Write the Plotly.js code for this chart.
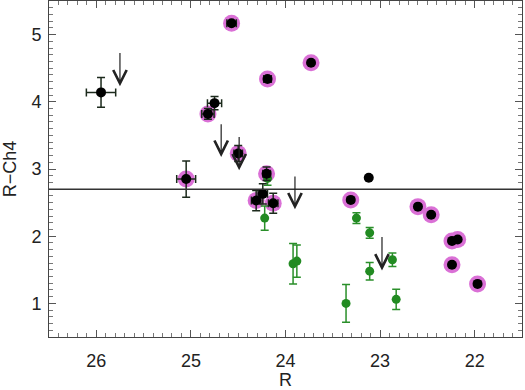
<!DOCTYPE html>
<html>
<head>
<meta charset="utf-8">
<script src="https://cdn.plot.ly/plotly-3.0.1.min.js"></script>
<style>html,body{margin:0;padding:0;background:#fff;}#chart{width:525px;height:390px;}</style>
</head>
<body>
<div id="chart"></div>
<script>
// Black points (R, R-Ch4) with errors; halo flag marks the magenta-ringed ones
const blackR    = [25.95, 25.05, 24.75, 24.82, 24.50, 24.20, 24.31, 24.24, 24.13, 24.57, 24.19, 23.73, 23.12, 23.31, 22.60, 22.46, 22.24, 22.18, 22.24, 21.97];
const blackC    = [4.14, 2.85, 3.98, 3.82, 3.23, 2.93, 2.53, 2.63, 2.49, 5.17, 4.34, 4.58, 2.87, 2.54, 2.44, 2.32, 1.93, 1.95, 1.575, 1.29];
const blackErrR = [0.155, 0.10, 0.075, 0.065, 0.045, 0.04, 0.05, 0.05, 0.05, 0.05, 0.04, 0.02, 0, 0.02, 0, 0, 0, 0, 0, 0];
const blackErrC = [0.22, 0.27, 0.10, 0.08, 0.12, 0.10, 0.15, 0.15, 0.15, 0.03, 0.03, 0.02, 0, 0.03, 0, 0, 0, 0, 0, 0];
const blackHalo = [0, 1, 0, 1, 1, 1, 1, 0, 1, 1, 1, 1, 0, 1, 1, 1, 1, 1, 1, 1];

// Green points
const greenR    = [24.19, 24.22, 23.92, 23.88, 23.36, 23.25, 23.11, 23.11, 22.87, 22.83];
const greenC    = [2.86, 2.27, 1.59, 1.63, 1.00, 2.27, 2.05, 1.48, 1.65, 1.06];
const greenErrC = [0.10, 0.18, 0.30, 0.24, 0.28, 0.08, 0.08, 0.13, 0.10, 0.15];

// Upper-limit arrows
const arrowR    = [25.75, 24.68, 24.49, 23.90, 22.98];
const arrowTop  = [4.75, 3.69, 3.50, 2.91, 2.01];
const arrowTip  = [4.23, 3.18, 2.98, 2.40, 1.49];

// Horizontal cut
const cutLevel = 2.7;

const haloR = blackR.filter((v, i) => blackHalo[i]);
const haloC = blackC.filter((v, i) => blackHalo[i]);

const traces = [
  { type: 'scatter', mode: 'markers', x: haloR, y: haloC, hoverinfo: 'skip',
    marker: { size: 17, color: '#da70d6', line: { width: 0 } } },
  { type: 'scatter', mode: 'markers', x: greenR, y: greenC,
    error_y: { type: 'data', array: greenErrC, color: '#2a8f2a', thickness: 1.5, width: 4 },
    marker: { size: 9, color: '#228b22', line: { width: 0 } } },
  { type: 'scatter', mode: 'markers', x: blackR, y: blackC,
    error_x: { type: 'data', array: blackErrR, color: '#1c2a1c', thickness: 1.5, width: 4 },
    error_y: { type: 'data', array: blackErrC, color: '#1c2a1c', thickness: 1.5, width: 4 },
    marker: { size: 10, color: '#000', line: { width: 0 } } }
];

const annotations = arrowR.map((r, i) => ({
  x: r, y: arrowTip[i], ax: r, ay: arrowTop[i], xref: 'x', yref: 'y', axref: 'x', ayref: 'y',
  showarrow: true, arrowhead: 5, arrowsize: 2.2, arrowwidth: 1.2, arrowcolor: '#222', standoff: 0, text: ''
}));

const fontFam = 'Liberation Sans, Arial, sans-serif';
const axisCommon = {
  showline: true, linecolor: '#444', linewidth: 1, mirror: 'ticks', ticks: 'inside',
  ticklen: 7, tickwidth: 1, tickcolor: '#555', showgrid: false, zeroline: false,
  tickfont: { family: fontFam, size: 18, color: '#222' },
  minor: { ticks: 'inside', ticklen: 4, tickcolor: '#777', dtick: 0.1, showgrid: false }
};

const layout = {
  width: 525, height: 390,
  margin: { l: 49, r: 3, t: 1, b: 53 },
  paper_bgcolor: '#fff', plot_bgcolor: '#fff',
  showlegend: false,
  xaxis: Object.assign({}, axisCommon, {
    range: [26.5, 21.5], dtick: 1, tick0: 0, ticklabelstandoff: 7,
    title: { text: 'R', font: { family: fontFam, size: 18, color: '#222' }, standoff: 6 }
  }),
  yaxis: Object.assign({}, axisCommon, {
    range: [0.5, 5.5], dtick: 1, tick0: 0, ticklabelstandoff: 3,
    title: { text: 'R\u2212Ch4', font: { family: fontFam, size: 18, color: '#222' }, standoff: 14 }
  }),
  shapes: [{ type: 'line', xref: 'paper', x0: 0, x1: 1, yref: 'y', y0: cutLevel, y1: cutLevel,
             line: { color: '#333', width: 1.5 } }],
  annotations: annotations
};

Plotly.newPlot('chart', traces, layout, { staticPlot: true, displayModeBar: false });
</script>
</body>
</html>
